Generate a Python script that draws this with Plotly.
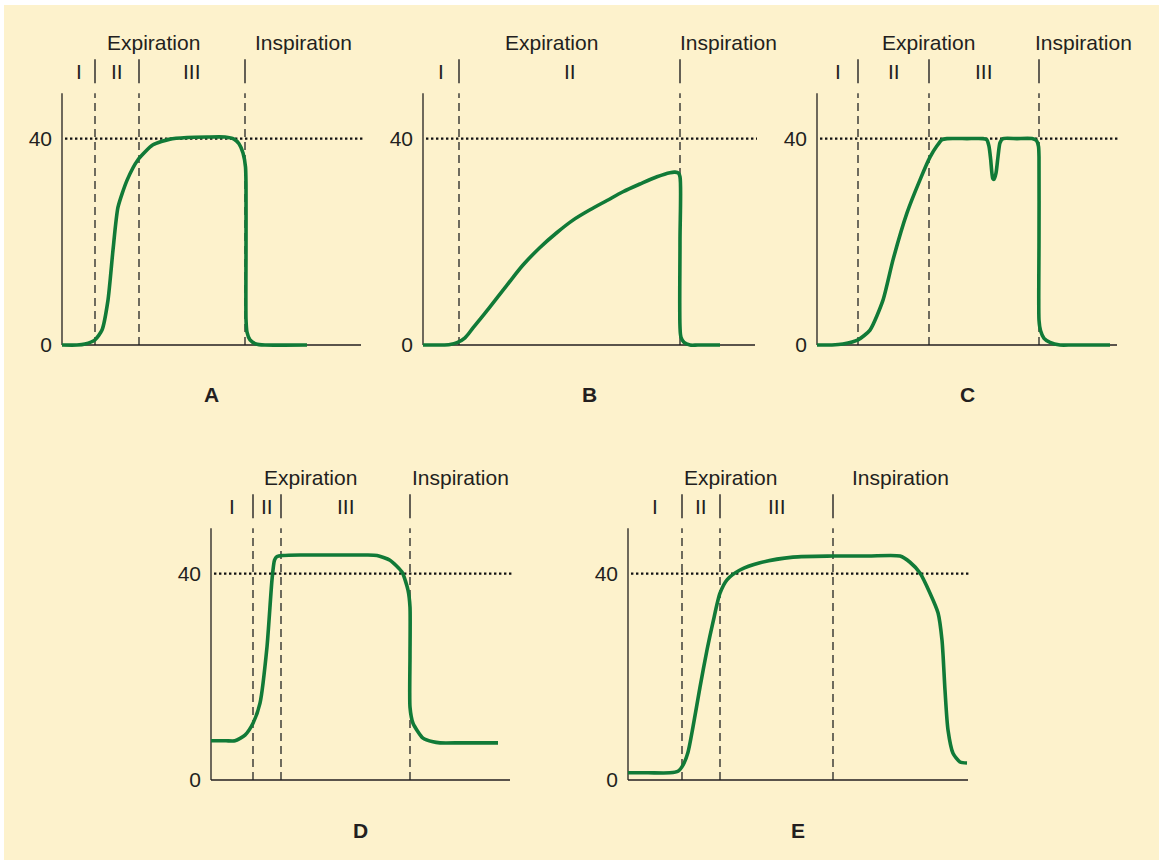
import plotly.graph_objects as go

# ---------------- data (time in arbitrary units, CO2 in mmHg) ----------------
a_time = [0, 1.5, 2.3, 3.3, 4.0, 4.6, 5.1, 5.6, 6.5, 7.6, 9.1, 10.8, 12.5, 14.5, 16.3, 17.2, 17.7, 18.1,
          18.35, 18.4, 18.4, 18.4, 18.5, 18.8, 19.4, 20.3, 24.5]
a_co2 = [0, 0, 0.2, 1.0, 2.9, 8.7, 18.4, 26.7, 31.9, 35.9, 38.8, 39.9, 40.2, 40.3, 40.3, 39.9, 39.0, 37.2,
         34.5, 31.0, 18.0, 5.0, 2.5, 1.0, 0.2, 0, 0]
a_phases = [3.3, 7.7, 18.3]
a_labels = ["I", "II", "III"]

b_time = [0, 1.7, 2.7, 3.4, 4.2, 5.0, 6.7, 8.4, 10.0, 11.7, 13.4, 15.0, 16.7, 18.4, 20.0, 21.7, 23.4,
          24.7, 25.2, 25.55, 25.7, 25.7, 25.7, 25.8, 26.1, 26.7, 27.5, 29.7]
b_co2 = [0, 0, 0.1, 0.45, 1.4, 3.3, 7.4, 11.6, 15.5, 18.9, 21.8, 24.2, 26.2, 28.0, 29.7, 31.2, 32.6,
         33.4, 33.5, 33.3, 32.6, 20.0, 3.5, 1.5, 0.5, 0, 0, 0]
b_phases = [3.6, 25.7]
b_labels = ["I", "II"]

c_time = [0, 1.5, 2.6, 4.1, 5.3, 6.6, 7.6, 9.0, 10.3, 11.3, 12.0, 12.5, 13.0, 15.0, 16.6, 16.97, 17.2,
          17.37, 17.57, 17.7, 17.9, 18.1, 18.3, 18.6, 20.0, 21.5, 21.95, 22.15, 22.2, 22.2, 22.2, 22.35,
          22.7, 23.3, 24.3, 25.5, 29.3]
c_co2 = [0, 0, 0.2, 1.0, 2.9, 8.7, 16.5, 25.6, 32.0, 36.4, 38.6, 39.8, 40.0, 40.0, 40.0, 39.8, 38.5,
         35.9, 32.3, 32.1, 33.3, 36.5, 39.2, 40.0, 40.0, 40.0, 39.6, 38.5, 36.4, 20.0, 4.8, 2.8,
         1.3, 0.5, 0, 0, 0]
c_phases = [4.1, 11.2, 22.2]
c_labels = ["I", "II", "III"]

d_time = [0, 1.5, 2.4, 3.4, 4.2, 4.9, 5.6, 6.1, 6.35, 6.6, 7.2, 8.9, 12.0, 15.5, 16.6, 17.9, 19.1, 19.7,
          19.9, 19.9, 19.9, 20.2, 21.2, 22.2, 22.9, 25.0, 28.7]
d_co2 = [7.6, 7.6, 7.6, 8.7, 11.0, 14.9, 25.8, 38.8, 42.6, 43.3, 43.5, 43.6, 43.6, 43.6, 43.5, 42.6, 40.3,
         36.8, 33.5, 24.0, 14.1, 11.0, 8.1, 7.4, 7.2, 7.2, 7.2]
d_phases = [4.2, 7.0, 19.9]
d_labels = ["I", "II", "III"]

e_time = [0, 2.0, 4.2, 5.0, 5.5, 6.0, 6.5, 7.2, 7.9, 8.5, 9.2, 9.9, 11.2, 13.2, 16.5, 20.5, 24.0, 27.2,
          28.2, 29.2, 30.2, 31.0, 31.4, 31.7, 32.0, 32.5, 33.2, 33.9]
e_co2 = [1.4, 1.4, 1.4, 1.7, 2.9, 5.4, 10.3, 18.0, 25.2, 30.6, 36.2, 38.8, 40.7, 42.1, 43.2, 43.4, 43.4,
         43.4, 42.2, 40.1, 36.2, 32.4, 27.1, 17.4, 9.7, 5.2, 3.5, 3.3]
e_phases = [5.4, 9.2, 20.5]
e_labels = ["I", "II", "III"]

panel_names = ["A", "B", "C", "D", "E"]
reference_level = 40
y_tick_values = [0, 40]

# ---------------- layout helpers ----------------
W, H = 1159, 860
PX_X = 10.0      # pixels per time unit
PX_Y = 5.16      # pixels per mmHg
Y_TOP = 48.8     # top of drawn y axis (mmHg)
YR = [-2, 62]
GREEN = "#117a37"
INK = "#231f20"
BG = "#fdf2cc"
FONT = "Liberation Sans, Arial, Helvetica, sans-serif"
FS = 21

panels = [
    dict(name="A", t=a_time, c=a_co2, ph=a_phases, lab=a_labels, x0=62, y0=345, xmax=29.9, insp_shift=0, sm=0.6),
    dict(name="B", t=b_time, c=b_co2, ph=b_phases, lab=b_labels, x0=423, y0=345, xmax=33.2, insp_shift=11, sm=0.9),
    dict(name="C", t=c_time, c=c_co2, ph=c_phases, lab=c_labels, x0=817, y0=345, xmax=30.0, insp_shift=5, sm=0.6),
    dict(name="D", t=d_time, c=d_co2, ph=d_phases, lab=d_labels, x0=211, y0=780, xmax=29.9, insp_shift=0, sm=0.6),
    dict(name="E", t=e_time, c=e_co2, ph=e_phases, lab=e_labels, x0=628, y0=780, xmax=34.0, insp_shift=0, sm=0.7),
]

fig = go.Figure()
shapes = [dict(type="rect", xref="paper", yref="paper", x0=4 / W, x1=1, y0=0, y1=1 - 5 / H,
               fillcolor=BG, line=dict(width=0), layer="below")]
annotations = []
layout = {}

for i, p in enumerate(panels):
    n = "" if i == 0 else str(i + 1)
    xa, ya = "x" + n, "y" + n
    xr = [-0.8, p["xmax"] + 1.0]
    dom_x = [(p["x0"] + xr[0] * PX_X) / W, (p["x0"] + xr[1] * PX_X) / W]
    dom_y = [1 - (p["y0"] - YR[0] * PX_Y) / H, 1 - (p["y0"] - YR[1] * PX_Y) / H]
    layout["xaxis" + n] = dict(domain=dom_x, range=xr, anchor=ya, visible=False, fixedrange=True)
    layout["yaxis" + n] = dict(domain=dom_y, range=YR, anchor=xa, showgrid=False, zeroline=False,
                              showline=False, ticks="", tickvals=y_tick_values,
                              ticktext=[str(v) for v in y_tick_values],
                              tickfont=dict(size=FS, color=INK, family=FONT),
                              ticklabelstandoff=1, fixedrange=True)

    fig.add_trace(go.Scatter(x=p["t"], y=p["c"], mode="lines", xaxis=xa, yaxis=ya,
                             line=dict(color=GREEN, width=3.6, shape="spline", smoothing=p["sm"]),
                             hoverinfo="skip", showlegend=False))

    # axes
    shapes.append(dict(type="line", xref=xa, yref=ya, x0=0, x1=0, y0=0, y1=Y_TOP,
                       line=dict(color=INK, width=1.3), layer="below"))
    shapes.append(dict(type="line", xref=xa, yref=ya, x0=0, x1=p["xmax"], y0=0, y1=0,
                       line=dict(color=INK, width=1.3), layer="below"))
    # reference level
    shapes.append(dict(type="line", xref=xa, yref=ya, x0=0.3, x1=p["xmax"] + 0.2,
                       y0=reference_level, y1=reference_level,
                       line=dict(color="#111111", width=2.4, dash="2.4px,2.6px"), layer="below"))
    # phase boundaries
    for b in p["ph"]:
        shapes.append(dict(type="line", xref=xa, yref=ya, x0=b, x1=b, y0=0, y1=Y_TOP,
                           line=dict(color="#222222", width=1.3, dash="8px,5px"), layer="below"))
        shapes.append(dict(type="line", xref=xa, yref=ya, x0=b, x1=b,
                           y0=Y_TOP + 10 / PX_Y, y1=Y_TOP + 34 / PX_Y,
                           line=dict(color="#222222", width=1.4), layer="below"))
    # phase labels
    edges = [0] + p["ph"]
    for k, lab in enumerate(p["lab"]):
        annotations.append(dict(xref=xa, yref=ya, x=(edges[k] + edges[k + 1]) / 2, y=Y_TOP,
                                yshift=22, text=lab, showarrow=False,
                                font=dict(size=FS, color=INK, family=FONT)))
    insp = p["ph"][-1]
    annotations.append(dict(xref=xa, yref=ya, x=insp / 2, y=Y_TOP, yshift=51, text="Expiration",
                            showarrow=False, font=dict(size=FS, color=INK, family=FONT)))
    annotations.append(dict(xref=xa, yref=ya, x=(insp + p["xmax"]) / 2, y=Y_TOP, yshift=51,
                            xshift=p["insp_shift"], text="Inspiration",
                            showarrow=False, font=dict(size=FS, color=INK, family=FONT)))
    annotations.append(dict(xref=xa, yref=ya, x=p["xmax"] / 2, y=0, yshift=-50,
                            text="<b>" + panel_names[i] + "</b>", showarrow=False,
                            font=dict(size=FS, color=INK, family=FONT)))

fig.update_layout(width=W, height=H, margin=dict(l=0, r=0, t=0, b=0),
                  paper_bgcolor="white", plot_bgcolor="rgba(0,0,0,0)",
                  shapes=shapes, annotations=annotations, showlegend=False, **layout)

fig.write_html("out.html", config={"displayModeBar": False},
               post_script="document.body.style.margin='0';document.body.style.padding='0';")
